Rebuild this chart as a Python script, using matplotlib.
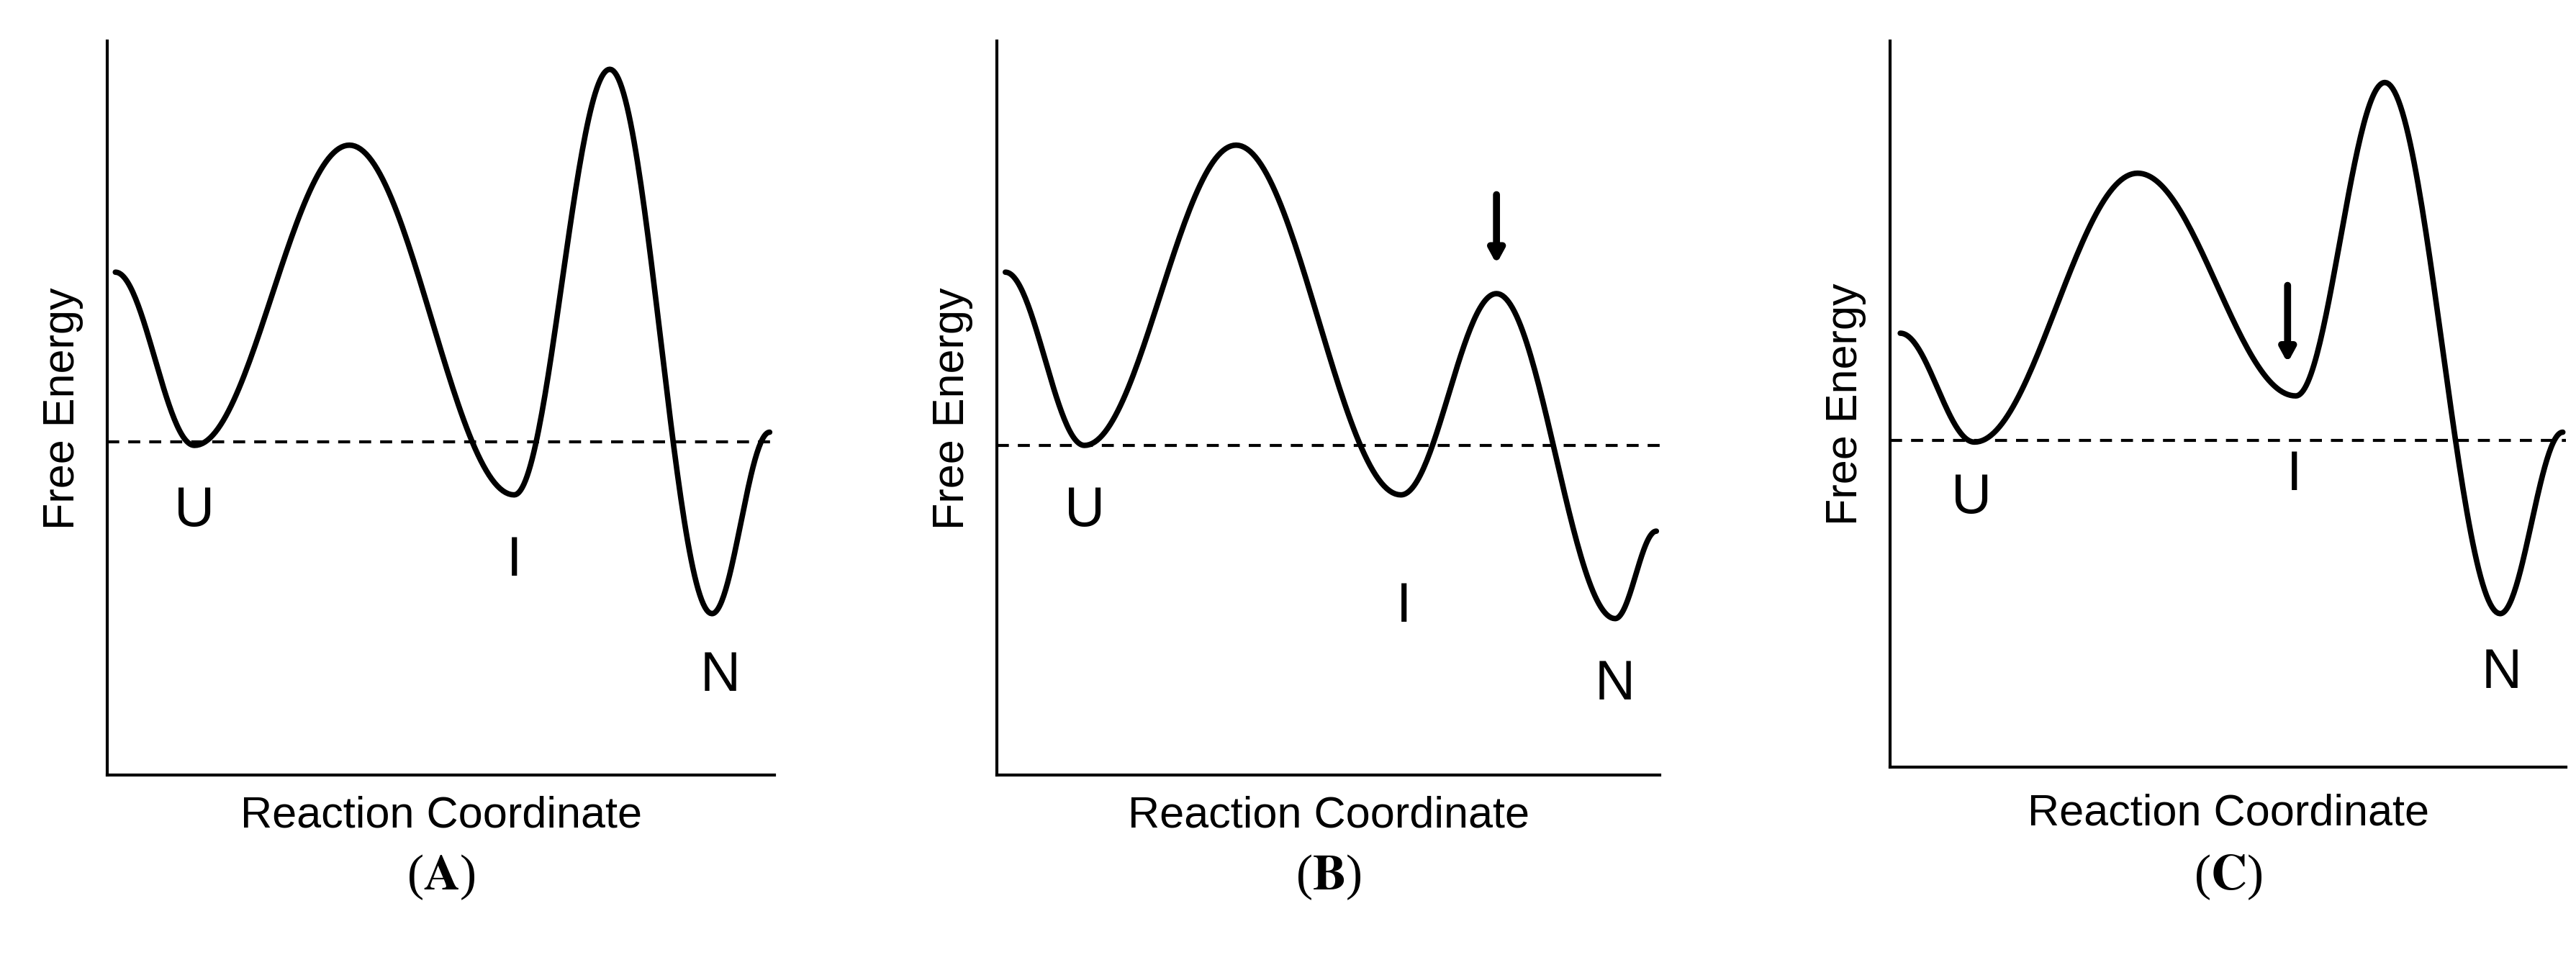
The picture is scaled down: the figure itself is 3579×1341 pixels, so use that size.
import numpy as np
import matplotlib.pyplot as plt

# reference drawn at 1563 x 585 units, scaled to 3579 x 1341 px
W, H = 1563, 585

# extrema of each energy profile: x along coordinate, y = height above baseline
a_x = [5, 53, 147, 247, 305, 367, 402]
a_y = [305, 200, 382, 170, 428, 98, 208]
b_x = [5, 53, 145, 245, 303, 375, 400]
b_y = [305, 200, 382, 170, 292, 95, 148]
c_x = [6, 51, 150, 246, 300, 370, 408]
c_y = [263, 197, 360, 225, 415, 93, 203]

panels = [
    dict(x0=65, top=25, bot=470, xs=a_x, ys=a_y, dash=202, width=405,
         labels=[('U', 53, 160), ('I', 247, 130), ('N', 372, 60)], arrow=None, tag='A'),
    dict(x0=605, top=25, bot=470, xs=b_x, ys=b_y, dash=200, width=402,
         labels=[('U', 53, 160), ('I', 247, 102), ('N', 375, 55)], arrow=(303, 352, 310), tag='B'),
    dict(x0=1147, top=25, bot=465, xs=c_x, ys=c_y, dash=198, width=410,
         labels=[('U', 49, 163), ('I', 245, 177), ('N', 371, 57)], arrow=(241, 292, 245), tag='C'),
]


def profile(xs, ys):
    px, py = [], []
    for i in range(len(xs) - 1):
        t = np.linspace(0, 1, 60)
        s = (1 - np.cos(np.pi * t)) / 2
        px.extend(xs[i] + (xs[i + 1] - xs[i]) * t)
        py.extend(ys[i] + (ys[i + 1] - ys[i]) * s)
    return px, py


fig = plt.figure(figsize=(35.79, 13.41), dpi=100)
lab = dict(family='Liberation Sans', color='black')

for p in panels:
    h = p['bot'] - p['top']
    ax = fig.add_axes([p['x0'] / W, (H - p['bot']) / H, p['width'] / W, h / H])
    ax.set_xlim(0, p['width'])
    ax.set_ylim(0, h)
    for s in ['top', 'right']:
        ax.spines[s].set_visible(False)
    for s in ['left', 'bottom']:
        ax.spines[s].set_linewidth(3)
    ax.set_xticks([])
    ax.set_yticks([])
    ax.patch.set_alpha(0)
    px, py = profile(p['xs'], p['ys'])
    ax.plot(px, py, color='black', lw=5.5, solid_capstyle='round', clip_on=False)
    ax.plot([0, p['width']], [p['dash'], p['dash']], color='black', lw=3,
            dashes=(4, 3), clip_on=False)
    for t, x, y in p['labels']:
        ax.text(x, y, t, fontsize=56, ha='center', va='center', **lab)
    if p['arrow']:
        x, y1, y2 = p['arrow'][0], p['arrow'][1], p['arrow'][2]
        ax.annotate('', xy=(x, y2), xytext=(x, y1),
                    arrowprops=dict(arrowstyle='-|>,head_width=0.6,head_length=1.1',
                                    color='black', lw=7, shrinkA=0, shrinkB=0))
    pad = 26 if p['bot'] < 470 else 20
    ax.set_xlabel('Reaction Coordinate', fontsize=44, labelpad=pad, **lab)
    ax.set_ylabel('Free Energy', fontsize=44, labelpad=24, **lab)
    ax.text(0.5, (p['bot'] - 532) / h, r'($\mathbf{%s}$)' % p['tag'],
            transform=ax.transAxes, fontsize=50, ha='center', va='center',
            family='Liberation Serif', math_fontfamily='stix')

fig.savefig('out.png', dpi=100)
